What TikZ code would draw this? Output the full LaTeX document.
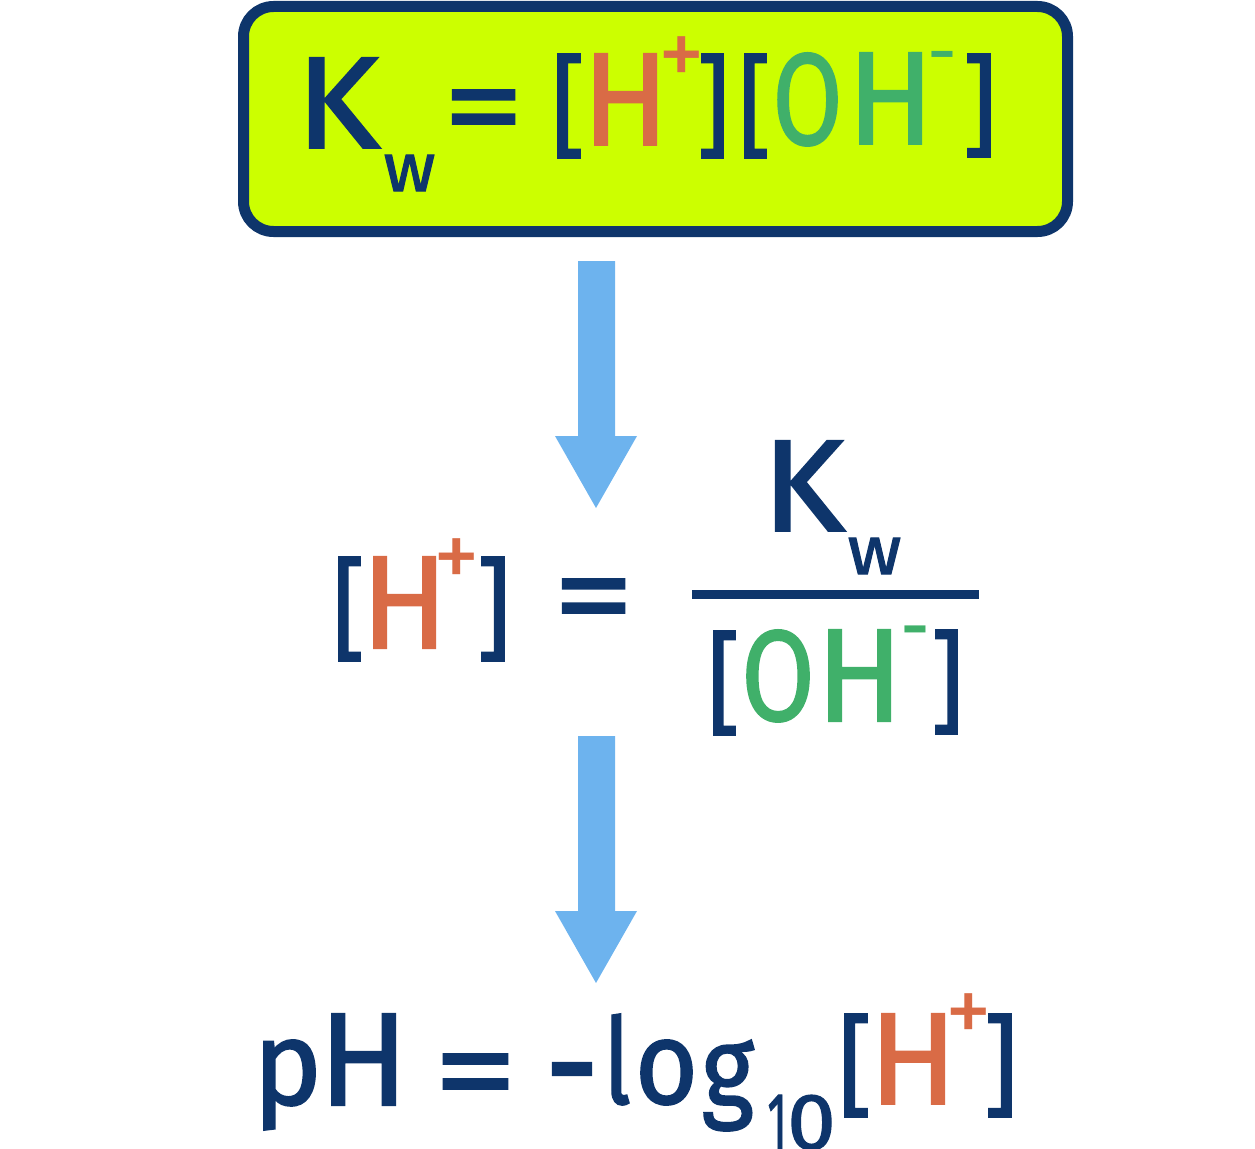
\documentclass[tikz,border=0pt]{standalone}
\usepackage{graphicx}
\usepackage{fontspec}
\setmainfont{Fira Sans}
\newfontfamily\medfont{Fira Sans}[FakeBold=1.5]
\definecolor{navy}{HTML}{0E356B}
\definecolor{lime}{HTML}{CCFF00}
\definecolor{orng}{HTML}{D96B46}
\definecolor{grn}{HTML}{40B06A}
\definecolor{sky}{HTML}{6DB3EE}
\newbox\inkbx
\newdimen\inkL \newdimen\inkT \newdimen\inkR \newdimen\inkB
\newcount\inkG
\newcommand\ink[1]{%
  \begingroup
  \inkG=\XeTeXcharglyph`#1\relax
  \inkL=\XeTeXglyphbounds1 \inkG
  \inkT=\XeTeXglyphbounds2 \inkG
  \inkR=\XeTeXglyphbounds3 \inkG
  \inkB=\XeTeXglyphbounds4 \inkG
  \setbox\inkbx\hbox{\kern-\inkL\raise\inkB\hbox{#1}\kern-\inkR}%
  \ht\inkbx=\dimexpr\inkT+\inkB\relax \dp\inkbx=0pt
  \box\inkbx
  \endgroup}
\tikzset{glyph/.style={inner sep=0pt, outer sep=0pt, anchor=south west, font=\medfont},
  thin glyph/.style={glyph, font=\rmfamily},
  arrowshape/.style={fill=sky, draw=none},
  kwbox/.style={draw=navy, fill=lime, line width=11pt, rounded corners=30pt}}
\newcommand\gl[8][]{%
  \pgfmathsetmacro\gw{#6-#4}\pgfmathsetmacro\gh{#7-#5}%
  \node[glyph, text=#3, #1] (#2) at (#4,#7) {\resizebox{\gw pt}{\gh pt}{\ink{#8}}};}
\begin{document}
\begin{tikzpicture}[x=1pt,y=-1pt]
\useasboundingbox (0,0) rectangle (1255,1148);
% top box
\draw[kwbox] (243.5,6.5) rectangle (1067.5,231.5);
\gl{tK}{navy}{310}{58}{380}{148}{K}
\gl{tw}{navy}{385}{155}{434}{191}{w}
\gl{teq}{navy}{453}{90}{514}{124}{=}
\gl{tb1}{navy}{558}{54}{580}{158}{[}
\gl{tH}{orng}{595}{54}{656}{145}{H}
\gl[thin glyph]{tp}{orng}{664}{37}{699}{73}{+}
\gl{tb2}{navy}{702}{54}{723}{158}{]}
\gl{tb3}{navy}{745}{54}{766}{158}{[}
\gl{tO}{grn}{778}{53}{837}{146}{O}
\gl{tH2}{grn}{860}{53}{921}{144}{H}
\gl[thin glyph]{tm}{grn}{932}{51}{953}{57}{-}
\gl{tb4}{navy}{968}{54}{990}{157}{]}
% arrow 1
\fill[arrowshape] (578,261) -- (615,261) -- (615,436) -- (637,436) -- (596,508) -- (555,436) -- (578,436) -- cycle;
% middle equation
\gl{mb1}{navy}{339}{557}{360}{661}{[}
\gl{mH}{orng}{374}{557}{435}{648}{H}
\gl[thin glyph]{mp}{orng}{439}{539}{474}{575}{+}
\gl{mb2}{navy}{482}{557}{504}{661}{]}
\gl{meq}{navy}{563}{579}{624}{613}{=}
\gl{mK}{navy}{776}{441}{845}{531}{K}
\gl{mw}{navy}{849}{538}{900}{574}{w}
\fill[navy] (692,590) rectangle (979,599);
\gl{mb3}{navy}{714}{631}{735}{735}{[}
\gl{mO}{grn}{747}{630}{809}{722}{O}
\gl{mH2}{grn}{829}{630}{890}{721}{H}
\gl[thin glyph]{mm}{grn}{905}{626}{926}{633}{-}
\gl{mb4}{navy}{936}{630}{957}{734}{]}
% arrow 2
\fill[arrowshape] (578,736) -- (615,736) -- (615,911) -- (637,911) -- (596,983) -- (555,911) -- (578,911) -- cycle;
% bottom equation
\gl{bp}{navy}{264}{1040}{315}{1130}{p}
\gl{bH}{navy}{332}{1014}{395}{1105}{H}
\gl{beq}{navy}{444}{1054}{507}{1089}{=}
\gl{bm}{navy}{553}{1063}{591}{1075}{-}
\gl{bl}{navy}{612}{1014}{629}{1105}{l}
\gl{bo}{navy}{641}{1040}{692}{1105}{o}
\gl{bg}{navy}{704}{1040}{754}{1131}{g}
\gl{b1}{navy}{769}{1095}{782}{1150}{1}
\gl{b0}{navy}{792}{1095}{831}{1150}{0}
\gl{bb1}{navy}{845}{1014}{867}{1117}{[}
\gl{bH2}{orng}{882}{1014}{944}{1104}{H}
\gl[thin glyph]{bpl}{orng}{951}{994}{986}{1030}{+}
\gl{bb2}{navy}{989}{1014}{1011}{1117}{]}
\end{tikzpicture}
\end{document}
